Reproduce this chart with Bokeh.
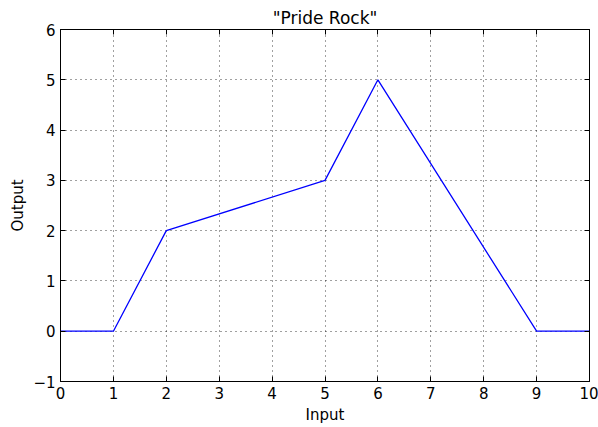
from bokeh.plotting import figure
from bokeh.models import LinearAxis, Range1d, FixedTicker
from bokeh.embed import file_html
from bokeh.resources import INLINE

x_vals = [0, 1, 2, 5, 6, 9, 10]
y_vals = [0, 0, 2, 3, 5, 0, 0]
x_ticks = [0, 1, 2, 3, 4, 5, 6, 7, 8, 9, 10]
y_ticks = [-1, 0, 1, 2, 3, 4, 5, 6]

FONT = "DejaVu Sans"

p = figure(width=598, height=427, output_backend="svg", toolbar_location=None,
           x_range=Range1d(0, 10), y_range=Range1d(-1, 6),
           min_border_left=60, min_border_right=9, min_border_top=29, min_border_bottom=46,
           title='"Pride Rock"')
p.title.text_font = FONT
p.title.text_font_size = "17px"
p.title.text_font_style = "normal"
p.title.text_color = "black"
p.title.align = "center"
p.title.standoff = 4

p.line(x_vals, y_vals, line_color="#0000ff", line_width=1.3)

p.background_fill_color = "white"
p.border_fill_color = "white"
p.outline_line_color = "black"
p.outline_line_width = 1

for ax, ticks in ((p.xaxis[0], x_ticks), (p.yaxis[0], y_ticks)):
    ax.ticker = FixedTicker(ticks=ticks)
    ax.major_tick_in = 5
    ax.major_tick_out = 0
    ax.minor_tick_line_color = None
    ax.axis_line_color = "black"
    ax.major_tick_line_color = "black"
    ax.major_label_text_font = FONT
    ax.major_label_text_font_size = "15px"
    ax.major_label_text_color = "black"
    ax.axis_label_text_font = FONT
    ax.axis_label_text_font_size = "15px"
    ax.axis_label_text_font_style = "normal"
    ax.axis_label_text_color = "black"
    ax.major_label_standoff = 5

p.xaxis[0].axis_label = "Input"
p.yaxis[0].axis_label = "Output"
p.xaxis[0].major_label_standoff = 5
p.xaxis[0].axis_label_standoff = 4
p.yaxis[0].axis_label_standoff = 3
p.yaxis[0].major_label_overrides = {-1: "\u22121"}

right = LinearAxis(ticker=FixedTicker(ticks=y_ticks),
                   major_label_overrides={t: "" for t in y_ticks},
                   major_tick_in=5, major_tick_out=0, minor_tick_line_color=None,
                   major_label_standoff=0, axis_line_color="black", major_tick_line_color="black")
top = LinearAxis(ticker=FixedTicker(ticks=x_ticks),
                 major_label_overrides={t: "" for t in x_ticks},
                 major_tick_in=5, major_tick_out=0, minor_tick_line_color=None,
                 major_label_standoff=0, axis_line_color="black", major_tick_line_color="black")
p.add_layout(right, "right")
p.add_layout(top, "above")

for g, ticks in ((p.xgrid[0], x_ticks), (p.ygrid[0], y_ticks)):
    g.ticker = FixedTicker(ticks=ticks)
    g.grid_line_color = "black"
    g.grid_line_alpha = 0.75
    g.grid_line_width = 1
    g.grid_line_dash = "1 4"

open("out.html", "w").write(file_html(p, INLINE))
